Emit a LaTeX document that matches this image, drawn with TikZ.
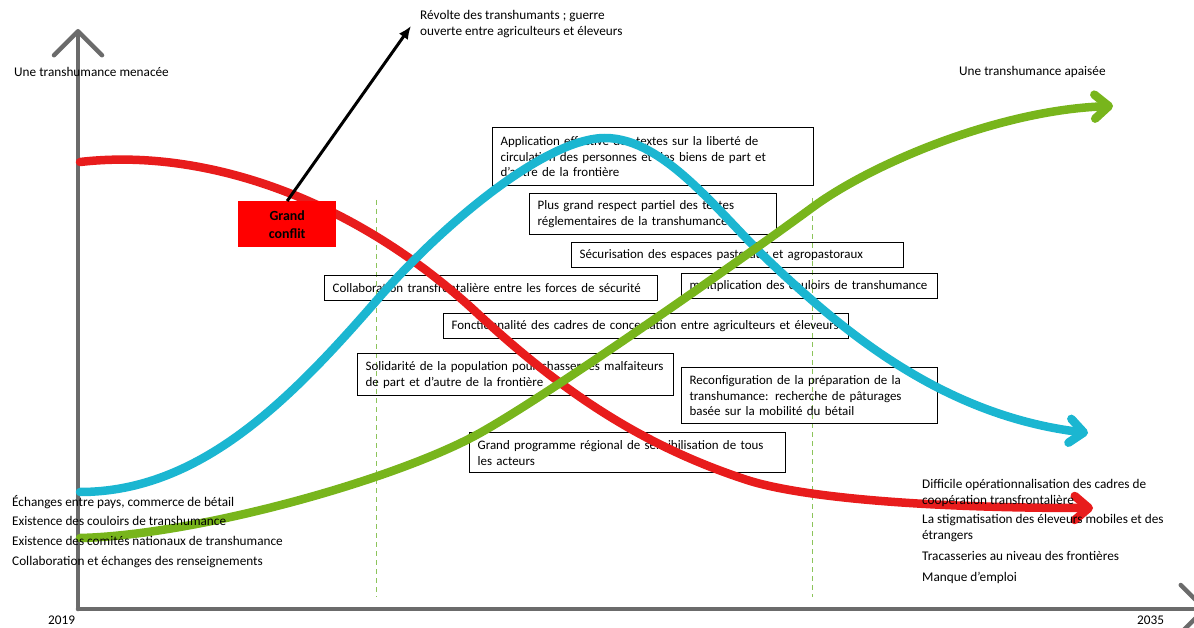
\documentclass[tikz,border=0pt]{standalone}
\usepackage{fontspec}
\setmainfont{Carlito}
\usetikzlibrary{arrows.meta}
\definecolor{axisgray}{HTML}{6B6B6B}
\definecolor{cred}{HTML}{E81C1C}
\definecolor{cblue}{HTML}{1BB6D1}
\definecolor{cgreen}{HTML}{78B51C}
\definecolor{dashgreen}{HTML}{8CC45A}
\definecolor{conflictred}{HTML}{FF0000}
\newcommand\fs{\fontsize{13.3}{16}\selectfont}
\newcommand\bfs{\fontsize{13}{16}\selectfont}
\tikzset{
  box/.style={draw=black, line width=1.2bp, anchor=north west, inner xsep=8bp, inner ysep=0pt, align=left, font=\bfs},
  lbl/.style={anchor=west, inner sep=0pt, align=left, font=\fs},
  curve/.style={line width=8.5bp, line cap=round, line join=round},
  axisline/.style={draw=axisgray, line width=4.5bp, line cap=round},
  chevron/.style={-{Straight Barb[length=#1, width=2*#1, line cap=round, line join=round]}},
  curvetip/.style={-{Straight Barb[length=14bp, width=24bp, line cap=round, line join=round]}},
  dashln/.style={draw=dashgreen, line width=1bp, dash pattern=on 5bp off 4bp},
}
\begin{document}
\begin{tikzpicture}[x=1bp,y=-1bp]
\useasboundingbox (0,0) rectangle (1194,628);
\clip (0,0) rectangle (1194,628);

% axes
\coordinate (origin) at (78,609);
\coordinate (ytop) at (78,29);
\coordinate (xend) at (1207,609);
\draw[axisline, chevron=24bp] (origin) -- (ytop);
\draw[axisline, chevron=24bp] (origin) -- (xend);

% dashed separators
\draw[dashln] (376,200) -- (376,597);
\draw[dashln] (812,198) -- (812,597);

% boxes
\node[box, minimum width=321bp, minimum height=58bp, text width=305bp] (appl) at (492,127)
  {Application effective des textes sur la liberté de\\circulation des personnes et des biens de part et\\d’autre de la frontière};
\node[box, minimum width=247bp, minimum height=41bp, text width=231bp] (resp) at (529,193)
  {Plus grand respect partiel des textes\\réglementaires de la transhumance};
\node[box, minimum width=332bp, minimum height=25bp, text width=316bp] (secu) at (571,242)
  {Sécurisation des espaces pastoraux et agropastoraux};
\node[box, minimum width=333bp, minimum height=25bp, text width=317bp] (collab) at (324,275)
  {Collaboration transfrontalière entre les forces de sécurité};
\node[box, minimum width=256bp, minimum height=25bp, text width=240bp] (multi) at (681,273)
  {multiplication des couloirs de transhumance};
\node[box, minimum width=405bp, minimum height=25bp, text width=389bp] (fonct) at (443,313)
  {Fonctionnalité des cadres de concertation entre agriculteurs et éleveurs};
\node[box, minimum width=316bp, minimum height=42bp, text width=300bp] (solid) at (357,353)
  {Solidarité de la population pour chasser les malfaiteurs\\de part et d’autre de la frontière};
\node[box, minimum width=256bp, minimum height=56bp, text width=240bp] (reconf) at (681,367)
  {Reconfiguration de la préparation de la\\transhumance: recherche de pâturages\\basée sur la mobilité du bétail};
\node[box, minimum width=316bp, minimum height=40bp, text width=300bp] (prog) at (469,432)
  {Grand programme régional de sensibilisation de tous\\les acteurs};

% curves
\draw[curve, cred, curvetip] (80,162)
  .. controls (200,148) and (350,195) .. (477,313)
  .. controls (560,390) and (640,445) .. (747,480)
  .. controls (800,497) and (920,508) .. (1093,508);
\draw[curve, cblue, curvetip] (80,492)
  .. controls (200,492) and (290,400) .. (377,300)
  .. controls (440,227) and (545,138) .. (605,138)
  .. controls (665,138) and (720,215) .. (770,262)
  .. controls (840,328) and (940,415) .. (1088,433);
\draw[curve, cgreen, curvetip] (80,538)
  .. controls (200,535) and (400,478) .. (480,433)
  .. controls (560,388) and (760,246) .. (813,207)
  .. controls (873,163) and (1000,110) .. (1113,106);

% grand conflit
\node[fill=conflictred, minimum width=98bp, minimum height=46bp, inner sep=0pt, align=center,
      font=\fontsize{14}{18}\selectfont\bfseries, anchor=north west] (gc) at (238,201) {Grand\\conflit};
\coordinate (revtip) at (411,26);
\draw[line width=3bp, -{Latex[length=13bp, width=11bp]}] (gc.north) -- (revtip);

% free labels
\node[lbl] (revolte) at (420,24.5) {Révolte des transhumants ; guerre\\ouverte entre agriculteurs et éleveurs};
\node[lbl] (menacee) at (14,72) {Une transhumance menacée};
\node[lbl] (apaisee) at (959,72) {Une transhumance apaisée};

\node[lbl] (l1) at (12,502) {Échanges entre pays, commerce de bétail};
\node[lbl] (l2) at (12,521) {Existence des couloirs de transhumance};
\node[lbl] (l3) at (12,541) {Existence des comités nationaux de transhumance};
\node[lbl] (l4) at (12,562) {Collaboration et échanges des renseignements};

\node[lbl] (r1) at (922,493) {Difficile opérationnalisation des cadres de\\coopération transfrontalière};
\node[lbl] (r2) at (922,528.5) {La stigmatisation des éleveurs mobiles et des\\étrangers};
\node[lbl] (r3) at (922,556) {Tracasseries au niveau des frontières};
\node[lbl] (r4) at (922,578) {Manque d’emploi};

\node[lbl] (y2019) at (48,620) {2019};
\node[lbl] (y2035) at (1137,620) {2035};
\end{tikzpicture}
\end{document}
